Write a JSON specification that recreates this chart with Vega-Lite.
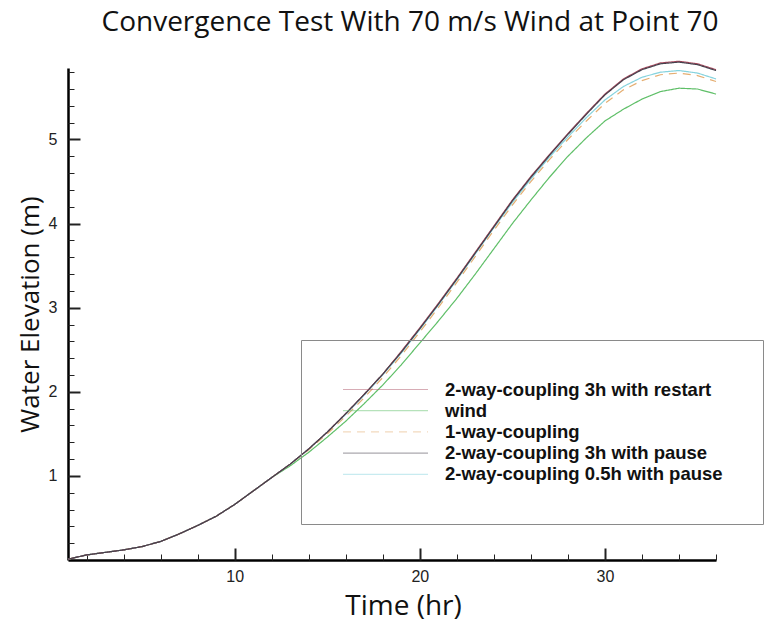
{
  "$schema": "https://vega.github.io/schema/vega-lite/v6.json",
  "width": 648,
  "height": 492,
  "autosize": {"type": "none"},
  "padding": {"left": 68, "top": 68, "right": 48, "bottom": 63},
  "background": "white",
  "title": {
    "text": "Convergence Test With 70 m/s Wind at Point 70",
    "font": "Open Sans",
    "fontSize": 28,
    "fontWeight": "normal",
    "color": "#111",
    "anchor": "middle",
    "offset": 22,
    "dx": 18
  },
  "datasets": {
    "runs": [
      {"key": "r3", "run": "2-way-coupling 3h with restart"},
      {"key": "wind", "run": "wind"},
      {"key": "oneway", "run": "1-way-coupling"},
      {"key": "p3", "run": "2-way-coupling 3h with pause"},
      {"key": "p05", "run": "2-way-coupling 0.5h with pause"}
    ],
    "surge": [
      {"t": 1, "wind": 0.01, "oneway": 0.01, "p05": 0.01, "r3": 0.01, "p3": 0.01},
      {"t": 2, "wind": 0.06, "oneway": 0.06, "p05": 0.06, "r3": 0.06, "p3": 0.06},
      {"t": 3, "wind": 0.09, "oneway": 0.09, "p05": 0.09, "r3": 0.09, "p3": 0.09},
      {"t": 4, "wind": 0.12, "oneway": 0.12, "p05": 0.12, "r3": 0.12, "p3": 0.12},
      {"t": 5, "wind": 0.16, "oneway": 0.16, "p05": 0.16, "r3": 0.16, "p3": 0.16},
      {"t": 6, "wind": 0.22, "oneway": 0.22, "p05": 0.22, "r3": 0.22, "p3": 0.22},
      {"t": 7, "wind": 0.31, "oneway": 0.31, "p05": 0.31, "r3": 0.31, "p3": 0.31},
      {"t": 8, "wind": 0.41, "oneway": 0.41, "p05": 0.41, "r3": 0.41, "p3": 0.41},
      {"t": 9, "wind": 0.52, "oneway": 0.52, "p05": 0.52, "r3": 0.52, "p3": 0.52},
      {"t": 10, "wind": 0.66, "oneway": 0.66, "p05": 0.66, "r3": 0.66, "p3": 0.66},
      {"t": 11, "wind": 0.82, "oneway": 0.82, "p05": 0.82, "r3": 0.82, "p3": 0.82},
      {"t": 12, "wind": 0.98, "oneway": 0.98, "p05": 0.98, "r3": 0.98, "p3": 0.98},
      {"t": 13, "wind": 1.12, "oneway": 1.14, "p05": 1.14, "r3": 1.14, "p3": 1.14},
      {"t": 14, "wind": 1.28, "oneway": 1.31, "p05": 1.32, "r3": 1.32, "p3": 1.32},
      {"t": 15, "wind": 1.46, "oneway": 1.5, "p05": 1.52, "r3": 1.52, "p3": 1.52},
      {"t": 16, "wind": 1.65, "oneway": 1.71, "p05": 1.73, "r3": 1.74, "p3": 1.74},
      {"t": 17, "wind": 1.86, "oneway": 1.93, "p05": 1.96, "r3": 1.97, "p3": 1.97},
      {"t": 18, "wind": 2.08, "oneway": 2.17, "p05": 2.2, "r3": 2.21, "p3": 2.21},
      {"t": 19, "wind": 2.32, "oneway": 2.43, "p05": 2.46, "r3": 2.48, "p3": 2.47},
      {"t": 20, "wind": 2.58, "oneway": 2.71, "p05": 2.74, "r3": 2.76, "p3": 2.75},
      {"t": 21, "wind": 2.84, "oneway": 3.0, "p05": 3.03, "r3": 3.05, "p3": 3.04},
      {"t": 22, "wind": 3.11, "oneway": 3.3, "p05": 3.33, "r3": 3.35, "p3": 3.34},
      {"t": 23, "wind": 3.4, "oneway": 3.61, "p05": 3.64, "r3": 3.66, "p3": 3.65},
      {"t": 24, "wind": 3.7, "oneway": 3.92, "p05": 3.95, "r3": 3.97, "p3": 3.96},
      {"t": 25, "wind": 4.0, "oneway": 4.22, "p05": 4.25, "r3": 4.28, "p3": 4.27},
      {"t": 26, "wind": 4.28, "oneway": 4.5, "p05": 4.53, "r3": 4.56, "p3": 4.55},
      {"t": 27, "wind": 4.55, "oneway": 4.76, "p05": 4.79, "r3": 4.82, "p3": 4.81},
      {"t": 28, "wind": 4.8, "oneway": 5.0, "p05": 5.03, "r3": 5.07, "p3": 5.06},
      {"t": 29, "wind": 5.02, "oneway": 5.22, "p05": 5.26, "r3": 5.31, "p3": 5.3},
      {"t": 30, "wind": 5.22, "oneway": 5.43, "p05": 5.47, "r3": 5.54, "p3": 5.53},
      {"t": 31, "wind": 5.36, "oneway": 5.59, "p05": 5.63, "r3": 5.72, "p3": 5.71},
      {"t": 32, "wind": 5.48, "oneway": 5.7, "p05": 5.74, "r3": 5.84, "p3": 5.83},
      {"t": 33, "wind": 5.57, "oneway": 5.77, "p05": 5.8, "r3": 5.91, "p3": 5.9},
      {"t": 34, "wind": 5.61, "oneway": 5.79, "p05": 5.82, "r3": 5.93, "p3": 5.92},
      {"t": 35, "wind": 5.6, "oneway": 5.76, "p05": 5.79, "r3": 5.9, "p3": 5.89},
      {"t": 36, "wind": 5.54, "oneway": 5.69, "p05": 5.72, "r3": 5.83, "p3": 5.82}
    ]
  },
  "data": {"name": "surge"},
  "transform": [
    {"fold": ["wind", "oneway", "p05", "r3", "p3"], "as": ["key", "elev"]},
    {"lookup": "key", "from": {"data": {"name": "runs"}, "key": "key", "fields": ["run"]}}
  ],
  "layer": [
    {
      "mark": {"type": "line", "strokeWidth": 1.2},
      "encoding": {
        "x": {
          "field": "t",
          "type": "quantitative",
          "scale": {"domain": [1, 36], "nice": false, "zero": false},
          "axis": {"orient": "bottom", "title": null, "labels": false, "ticks": false, "domain": true}
        },
        "y": {
          "field": "elev",
          "type": "quantitative",
          "scale": {"domain": [0, 5.85], "nice": false, "zero": false},
          "axis": {"orient": "left", "title": null, "labels": false, "ticks": false, "domain": true}
        },
        "color": {
          "field": "run",
          "type": "nominal",
          "scale": {
            "domain": ["2-way-coupling 3h with restart", "wind", "1-way-coupling", "2-way-coupling 3h with pause", "2-way-coupling 0.5h with pause"],
            "range": ["#a8485c", "#5fbf68", "#e5ae72", "#45404c", "#86d3de"]
          },
          "legend": {"title": null}
        },
        "strokeDash": {
          "field": "run",
          "type": "nominal",
          "scale": {
            "domain": ["2-way-coupling 3h with restart", "wind", "1-way-coupling", "2-way-coupling 3h with pause", "2-way-coupling 0.5h with pause"],
            "range": [[1, 0], [1, 0], [8, 6], [1, 0], [1, 0]]
          },
          "legend": {"title": null}
        }
      }
    },
    {
      "mark": {"type": "line", "opacity": 0},
      "encoding": {
        "x": {
          "field": "t",
          "type": "quantitative",
          "axis": {
            "orient": "bottom",
            "title": "Time (hr)",
            "domain": false,
            "values": [10, 20, 30],
            "offset": -12,
            "tickSize": 12,
            "tickWidth": 2,
            "labelPadding": 8,
            "titleFontSize": 28,
            "titlePadding": 8,
            "titleX": 335
          }
        },
        "y": {
          "field": "elev",
          "type": "quantitative",
          "axis": {
            "orient": "left",
            "title": "Water Elevation (m)",
            "domain": false,
            "values": [1, 2, 3, 4, 5],
            "offset": -12,
            "tickSize": 12,
            "tickWidth": 2,
            "labelPadding": 11,
            "titleFontSize": 26,
            "titlePadding": 5
          }
        },
        "detail": {"field": "key"}
      }
    },
    {
      "mark": {"type": "line", "opacity": 0},
      "encoding": {
        "x": {
          "field": "t",
          "type": "quantitative",
          "axis": {
            "orient": "bottom",
            "title": null,
            "labels": false,
            "domain": false,
            "values": [2, 4, 6, 8, 12, 14, 16, 18, 22, 24, 26, 28, 32, 34, 36],
            "offset": -6,
            "tickSize": 6,
            "tickWidth": 1
          }
        },
        "y": {
          "field": "elev",
          "type": "quantitative",
          "axis": {
            "orient": "left",
            "title": null,
            "labels": false,
            "domain": false,
            "values": [0.2, 0.4, 0.6, 0.8, 1.2, 1.4, 1.6, 1.8, 2.2, 2.4, 2.6, 2.8, 3.2, 3.4, 3.6, 3.8, 4.2, 4.4, 4.6, 4.8, 5.2, 5.4, 5.6, 5.8],
            "offset": -6,
            "tickSize": 6,
            "tickWidth": 1
          }
        },
        "detail": {"field": "key"}
      }
    }
  ],
  "resolve": {"axis": {"x": "independent", "y": "independent"}},
  "config": {
    "view": {"stroke": null},
    "axis": {
      "grid": false,
      "domainColor": "#000",
      "domainWidth": 2.5,
      "tickColor": "#222",
      "labelFont": "Liberation Sans",
      "labelFontSize": 16,
      "labelColor": "#222",
      "titleFont": "Open Sans",
      "titleFontSize": 26,
      "titleFontWeight": "normal",
      "titleColor": "#111"
    },
    "legend": {
      "orient": "none",
      "legendX": 233,
      "legendY": 272,
      "padding": 40,
      "strokeColor": "#8a8a8a",
      "symbolType": "M-0.88,0H9.12",
      "symbolSize": 289,
      "symbolStrokeWidth": 1.2,
      "symbolOpacity": 0.45,
      "labelOffset": 85,
      "labelFont": "Liberation Sans",
      "labelFontSize": 18.5,
      "labelFontWeight": "bold",
      "labelColor": "#111",
      "labelLimit": 0,
      "rowPadding": 2.2
    }
  }
}
